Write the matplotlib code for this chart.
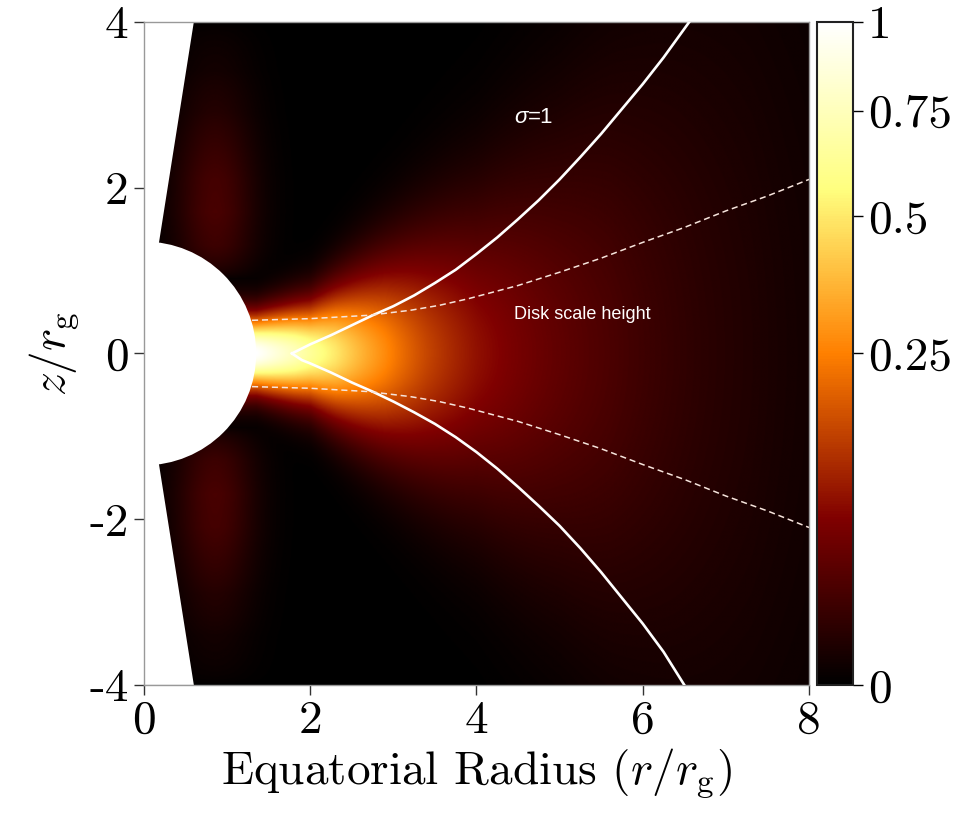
import numpy as np
import matplotlib
matplotlib.use('Agg')
import matplotlib.pyplot as plt
from matplotlib.colors import PowerNorm
from matplotlib.patches import Circle, Polygon

plt.rcParams['mathtext.fontset'] = 'cm'
plt.rcParams['font.family'] = 'serif'
plt.rcParams['font.serif'] = ['cmr10', 'DejaVu Serif']
plt.rcParams['axes.unicode_minus'] = False

# ---- values ----
# midplane density (normalised) vs equatorial radius
mid_r = [1.35, 1.8, 2.3, 2.9, 3.4, 4.0, 4.7, 5.6, 6.4, 7.3, 8.0]
mid_rho = [1.0, 0.75, 0.5, 0.27, 0.15, 0.08, 0.045, 0.022, 0.01, 0.004, 0.0015]
# vertical width of the density profile
wid_r = [1.35, 2.0, 3.0, 4.0, 5.0, 6.0, 7.0, 8.0]
wid_z = [0.22, 0.3, 0.6, 0.92, 1.35, 1.9, 2.5, 3.0]
# faint glow along the funnel wall
funnel_z = [0.9, 1.3, 1.7, 2.1, 2.5, 2.9, 3.4, 4.0]
funnel_rho = [0.0, 0.014, 0.02, 0.018, 0.011, 0.005, 0.0015, 0.0]
funnel_x, funnel_w = 0.85, 0.25

# sigma = 1 surface
sig_up_x = [1.78, 2.0, 2.25, 2.5, 2.75, 3.0, 3.25, 3.5, 3.75, 4.0, 4.25, 4.5,
            4.75, 5.0, 5.25, 5.5, 5.75, 6.0, 6.25, 6.56]
sig_up_z = [0.0, 0.11, 0.22, 0.34, 0.46, 0.57, 0.70, 0.85, 1.01, 1.20, 1.40, 1.62,
            1.85, 2.10, 2.37, 2.65, 2.95, 3.25, 3.57, 4.0]
sig_lo_x = [1.78, 1.9, 2.0, 2.25, 2.5, 2.75, 3.0, 3.25, 3.5, 3.75, 4.0, 4.25, 4.5,
            4.75, 5.0, 5.25, 5.5, 5.75, 6.0, 6.25, 6.5]
sig_lo_z = [0.0, -0.08, -0.12, -0.23, -0.35, -0.46, -0.58, -0.71, -0.85, -1.01, -1.19,
            -1.39, -1.61, -1.84, -2.08, -2.35, -2.64, -2.95, -3.26, -3.60, -4.0]
# disk scale height
h_x = [1.3, 2.0, 2.7, 3.2, 3.55, 3.9, 4.5, 5.0, 5.5, 6.0, 6.5, 7.0, 7.5, 8.0]
h_z = [0.40, 0.42, 0.46, 0.52, 0.58, 0.66, 0.82, 0.98, 1.15, 1.34, 1.52, 1.72, 1.90, 2.10]

r_hor = 1.35
cbar_ticks = [0, 0.25, 0.5, 0.75, 1]

# ---- density field ----
xs = np.linspace(0, 8, 801)
zs = np.linspace(-4, 4, 801)
X, Z = np.meshgrid(xs, zs)
rho0 = np.exp(np.interp(X, mid_r, np.log(mid_rho)))
s = np.interp(X, wid_r, wid_z)
rho = rho0 * np.exp(-0.5 * (Z / s) ** 2)
glow = np.interp(np.abs(Z), funnel_z, funnel_rho, left=0, right=0)
rho = rho + glow * np.exp(-0.5 * ((X - funnel_x) / funnel_w) ** 2)
rho = np.clip(rho, 0, 1)

fig = plt.figure(figsize=(9.61, 8.13), dpi=100)
ax = fig.add_axes([0.1498, 0.1575, 0.692, 0.8155])
cax = fig.add_axes([0.850, 0.1575, 0.0375, 0.8155])

im = ax.imshow(rho, extent=[0, 8, -4, 4], origin='lower', cmap='afmhot',
               norm=PowerNorm(gamma=0.5, vmin=0, vmax=1), aspect='auto',
               interpolation='bilinear', zorder=0)

# excised regions: horizon and polar funnel
ax.add_patch(Circle((0, 0), r_hor, facecolor='white', edgecolor='none', zorder=1))
ax.add_patch(Polygon([(-0.03, 0), (0.60, 4.0), (-0.2, 4.0), (-0.2, 0)],
                     facecolor='white', edgecolor='none', zorder=1))
ax.add_patch(Polygon([(-0.03, 0), (0.60, -4.0), (-0.2, -4.0), (-0.2, 0)],
                     facecolor='white', edgecolor='none', zorder=1))

ax.plot(sig_up_x, sig_up_z, color='white', lw=1.9, zorder=3, solid_joinstyle='round')
ax.plot(sig_lo_x, sig_lo_z, color='white', lw=1.9, zorder=3, solid_joinstyle='round')
ax.plot(h_x, h_z, color='#f6e4dc', lw=1.1, dashes=(4, 2.5), zorder=3)
ax.plot(h_x, [-v for v in h_z], color='#f6e4dc', lw=1.1, dashes=(4, 2.5), zorder=3)

ax.text(4.45, 2.78, 'σ', color='white', fontsize=16, style='italic',
        family='Liberation Sans', zorder=4)
ax.text(4.62, 2.78, '=1', color='white', fontsize=16,
        family='Liberation Sans', zorder=4)
ax.text(4.45, 0.42, 'Disk scale height', color='white', fontsize=13,
        family='Liberation Sans', zorder=4)

ax.set_xlim(0, 8)
ax.set_ylim(-4, 4)
ax.set_xticks([0, 2, 4, 6, 8])
ax.set_xticklabels(['0', '2', '4', '6', '8'])
ax.set_yticks([-4, -2, 0, 2, 4])
ax.set_yticklabels(['-4', '-2', '0', '2', '4'])
ax.tick_params(direction='out', length=7, width=1, labelsize=34, color='#333333', pad=4)
for sp in ax.spines.values():
    sp.set_color('#999999')
    sp.set_linewidth(1.0)
ax.set_xlabel(r'Equatorial Radius $(r/r_{\rm g})$', fontsize=34, labelpad=4)
ax.set_ylabel(r'$z/r_{\rm g}$', fontsize=34, labelpad=6)

cb = fig.colorbar(im, cax=cax, ticks=cbar_ticks)
cb.ax.set_yticklabels(['0', '0.25', '0.5', '0.75', '1'])
cb.ax.tick_params(direction='out', length=7, width=1, labelsize=34, pad=4)
cb.outline.set_linewidth(1.5)
cb.outline.set_edgecolor('#222222')

fig.savefig('out.png', dpi=100)
